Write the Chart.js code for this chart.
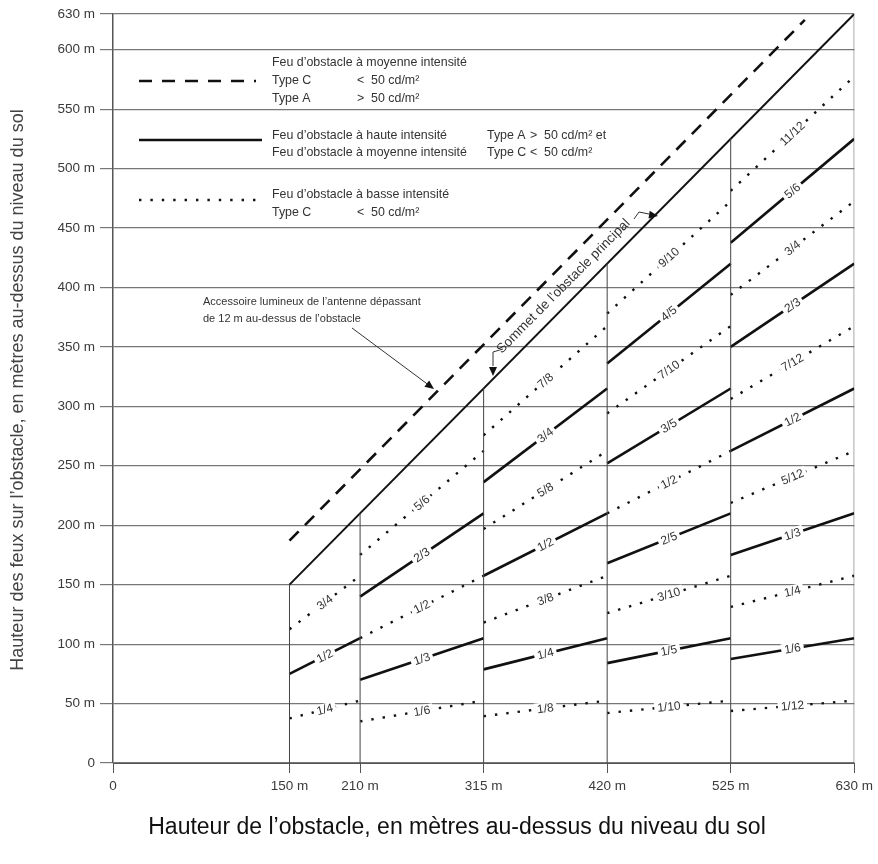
<!DOCTYPE html>
<html>
<head>
<meta charset="utf-8">
<script src="https://cdn.jsdelivr.net/npm/chart.js@4.4.1/dist/chart.umd.min.js"></script>
<style>
  body { margin: 0; background: #fff; }
  canvas { display: block; }
</style>
</head>
<body>
<canvas id="chart" width="878" height="864"></canvas>
<script>
// axis ticks
const xTicks = [0, 150, 210, 315, 420, 525, 630];
const yTicks = [0, 50, 100, 150, 200, 250, 300, 350, 400, 450, 500, 550, 600, 630];

// obstacle height bands (vertical lines) and the fraction of height marked in each band
const bandStart = [150, 210, 315, 420, 525];
const bandEnd = [210, 315, 420, 525, 630];
const fractions150 = ['1/4', '1/2', '3/4'];
const fractions210 = ['1/6', '1/3', '1/2', '2/3', '5/6'];
const fractions315 = ['1/8', '1/4', '3/8', '1/2', '5/8', '3/4', '7/8'];
const fractions420 = ['1/10', '1/5', '3/10', '2/5', '1/2', '3/5', '7/10', '4/5', '9/10'];
const fractions525 = ['1/12', '1/6', '1/4', '1/3', '5/12', '1/2', '7/12', '2/3', '3/4', '5/6', '11/12'];

// top of main obstacle and antenna light line
const summitX = [150, 630];
const summitY = [150, 630];
const antennaX = [150, 588];
const antennaY = [187, 625];

const INK = '#111';
const TEXT = '#333';
const FONT = '"Liberation Sans", Arial, sans-serif';
const allFractions = [fractions150, fractions210, fractions315, fractions420, fractions525];

function fracValue(label) {
    const parts = label.split('/');
    return Number(parts[0]) / Number(parts[1]);
}

const datasets = [];

// vertical lines, from the ground up to the summit line
bandEnd.concat([150]).forEach(h => {
    datasets.push({
        data: [{ x: h, y: 0 }, { x: h, y: h }],
        borderColor: '#444', borderWidth: 1
    });
});

allFractions.forEach((list, b) => {
    list.forEach((label, i) => {
        const f = fracValue(label);
        const dotted = i % 2 === 0;
        datasets.push({
            tag: label,
            data: [{ x: bandStart[b], y: f * bandStart[b] }, { x: bandEnd[b], y: f * bandEnd[b] }],
            borderColor: INK,
            borderWidth: dotted ? 2.4 : 2.6,
            borderDash: dotted ? [2.4, 9] : []
        });
    });
});

datasets.push({
    data: summitX.map((v, i) => ({ x: v, y: summitY[i] })),
    borderColor: INK, borderWidth: 2
});
datasets.push({
    data: antennaX.map((v, i) => ({ x: v, y: antennaY[i] })),
    borderColor: INK, borderWidth: 2.6, borderDash: [13, 9]
});

function arrowHead(ctx, tx, ty, ang) {
    ctx.save();
    ctx.translate(tx, ty);
    ctx.rotate(ang);
    ctx.beginPath();
    ctx.moveTo(0, 0);
    ctx.lineTo(-9, -4);
    ctx.lineTo(-9, 4);
    ctx.closePath();
    ctx.fill();
    ctx.restore();
}

const decor = {
    id: 'decor',
    afterDatasetsDraw(chart) {
        const { ctx } = chart;
        const xs = chart.scales.x, ys = chart.scales.y;

        // fraction labels along lines
        chart.data.datasets.forEach(ds => {
            if (!ds.tag) return;
            const x0 = xs.getPixelForValue(ds.data[0].x), y0 = ys.getPixelForValue(ds.data[0].y);
            const x1 = xs.getPixelForValue(ds.data[1].x), y1 = ys.getPixelForValue(ds.data[1].y);
            ctx.save();
            ctx.translate((x0 + x1) / 2, (y0 + y1) / 2);
            ctx.rotate(Math.atan2(y1 - y0, x1 - x0));
            ctx.font = '12px ' + FONT;
            const w = ctx.measureText(ds.tag).width;
            ctx.fillStyle = '#fff';
            ctx.fillRect(-w / 2 - 3, -6, w + 6, 12);
            ctx.fillStyle = TEXT;
            ctx.textAlign = 'center';
            ctx.textBaseline = 'middle';
            ctx.fillText(ds.tag, 0, 0.5);
            ctx.restore();
        });

        ctx.save();
        ctx.strokeStyle = INK;
        ctx.fillStyle = TEXT;
        ctx.font = '12.4px ' + FONT;
        ctx.textBaseline = 'middle';
        ctx.textAlign = 'left';

        // legend
        ctx.lineWidth = 2.6;
        ctx.setLineDash([13, 10]);
        ctx.beginPath(); ctx.moveTo(139, 81); ctx.lineTo(256, 81); ctx.stroke();
        ctx.setLineDash([]);
        ctx.beginPath(); ctx.moveTo(139, 140); ctx.lineTo(262, 140); ctx.stroke();
        ctx.lineWidth = 2.4;
        ctx.setLineDash([2.4, 9]);
        ctx.beginPath(); ctx.moveTo(139, 200); ctx.lineTo(258, 200); ctx.stroke();
        ctx.setLineDash([]);

        ctx.fillText('Feu d\u2019obstacle à moyenne intensité', 272, 63);
        ctx.fillText('Type C', 272, 81);
        ctx.fillText('<  50 cd/m²', 357, 81);
        ctx.fillText('Type A', 272, 99);
        ctx.fillText('>  50 cd/m²', 357, 99);

        ctx.fillText('Feu d\u2019obstacle à haute intensité', 272, 136);
        ctx.fillText('Type A', 487, 136);
        ctx.fillText('>  50 cd/m² et', 530, 136);
        ctx.fillText('Feu d\u2019obstacle à moyenne intensité', 272, 153);
        ctx.fillText('Type C', 487, 153);
        ctx.fillText('<  50 cd/m²', 530, 153);

        ctx.fillText('Feu d\u2019obstacle à basse intensité', 272, 195);
        ctx.fillText('Type C', 272, 213);
        ctx.fillText('<  50 cd/m²', 357, 213);

        // antenna annotation
        ctx.font = '11px ' + FONT;
        ctx.fillText('Accessoire lumineux de l\u2019antenne dépassant', 203, 302);
        ctx.fillText('de 12 m au-dessus de l\u2019obstacle', 203, 319);
        ctx.lineWidth = 1;
        ctx.strokeStyle = '#333';
        ctx.beginPath(); ctx.moveTo(352, 328); ctx.lineTo(430, 386); ctx.stroke();
        ctx.fillStyle = INK;
        arrowHead(ctx, 434, 389, Math.atan2(58, 78));

        // summit label along the main line
        const sx0 = xs.getPixelForValue(summitX[0]), sy0 = ys.getPixelForValue(summitY[0]);
        const sx1 = xs.getPixelForValue(summitX[1]), sy1 = ys.getPixelForValue(summitY[1]);
        const ang = Math.atan2(sy1 - sy0, sx1 - sx0);
        const cx = xs.getPixelForValue(392), cy = ys.getPixelForValue(392);
        ctx.save();
        ctx.translate(cx + Math.sin(ang) * 15, cy - Math.cos(ang) * 15);
        ctx.rotate(ang);
        ctx.fillStyle = TEXT;
        ctx.textAlign = 'center';
        ctx.font = '13.5px ' + FONT;
        ctx.fillText('Sommet de l\u2019obstacle principal', 0, 0);
        ctx.restore();

        ctx.strokeStyle = '#333';
        ctx.beginPath(); ctx.moveTo(503, 349); ctx.lineTo(493, 352); ctx.lineTo(493, 366); ctx.stroke();
        arrowHead(ctx, 493, 376, Math.PI / 2);
        ctx.beginPath(); ctx.moveTo(634, 219); ctx.lineTo(639, 212); ctx.lineTo(649, 214); ctx.stroke();
        arrowHead(ctx, 658, 216, 0.15);

        // axis titles
        ctx.fillStyle = '#444';
        ctx.textAlign = 'center';
        ctx.font = '18px ' + FONT;
        ctx.save();
        ctx.translate(18, 390);
        ctx.rotate(-Math.PI / 2);
        ctx.fillText('Hauteur des feux sur l\u2019obstacle, en mètres au-dessus du niveau du sol', 0, 0);
        ctx.restore();
        ctx.fillStyle = '#111';
        ctx.font = '23px ' + FONT;
        ctx.fillText('Hauteur de l\u2019obstacle, en mètres au-dessus du niveau du sol', 457, 828);
        ctx.restore();
    }
};

const tickFont = { family: FONT, size: 13.5 };
const meters = v => (v === 0 ? '0' : v + ' m');

new Chart(document.getElementById('chart'), {
    type: 'scatter',
    data: { datasets: datasets.map(d => Object.assign({ showLine: true, pointRadius: 0, fill: false }, d)) },
    options: {
        responsive: false,
        animation: false,
        layout: { padding: { top: 14, right: 20, left: 0, bottom: 0 } },
        plugins: { legend: { display: false }, tooltip: { enabled: false } },
        scales: {
            x: {
                type: 'linear', min: 0, max: 630,
                afterBuildTicks: s => { s.ticks = xTicks.map(v => ({ value: v })); },
                afterFit: s => { s.height = 101; },
                grid: { drawOnChartArea: false, drawTicks: true, tickLength: 10, color: '#555' },
                border: { display: true, color: '#555', width: 1 },
                ticks: { callback: meters, font: tickFont, color: '#3a3a3a', padding: 5, maxRotation: 0, autoSkip: false }
            },
            y: {
                type: 'linear', min: 0, max: 630,
                afterBuildTicks: s => { s.ticks = yTicks.map(v => ({ value: v })); },
                afterFit: s => { s.width = 113; },
                grid: { color: '#777', lineWidth: 1.2, tickLength: 13 },
                border: { display: true, color: '#555', width: 1.5 },
                ticks: { callback: meters, font: tickFont, color: '#3a3a3a', padding: 5, autoSkip: false }
            }
        }
    },
    plugins: [decor]
});
</script>
</body>
</html>
